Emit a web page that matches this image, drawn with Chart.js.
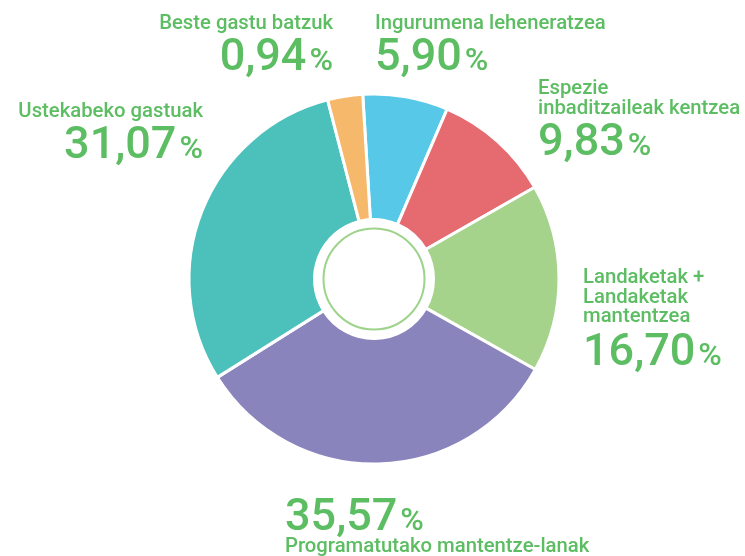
<!DOCTYPE html>
<html><head><meta charset="utf-8">
<script src="https://cdn.jsdelivr.net/npm/chart.js@4.4.1/dist/chart.umd.min.js"></script>
<style>
html,body{margin:0;padding:0;background:#fff;overflow:hidden}
#wrap{position:relative;width:745px;height:556px}
canvas{display:block}
</style></head><body>
<div id="wrap"><canvas id="c" width="745" height="556"></canvas></div>
<script>
// Categories (clockwise from top)
const categories = ['Ingurumena leheneratzea', 'Espezie inbaditzaileak kentzea', 'Landaketak + Landaketak mantentzea', 'Programatutako mantentze-lanak', 'Ustekabeko gastuak', 'Beste gastu batzuk'];
// Category names as printed (line breaks)
const nameLines = [['Ingurumena leheneratzea'], ['Espezie', 'inbaditzaileak kentzea'], ['Landaketak +', 'Landaketak', 'mantentzea'], ['Programatutako mantentze-lanak'], ['Ustekabeko gastuak'], ['Beste gastu batzuk']];
// Percentages as printed
const percentLabels = ['5,90', '9,83', '16,70', '35,57', '31,07', '0,94'];
// Slice shares as drawn in the picture (% of circle)
const sliceShares = [7.44, 10.28, 16.39, 32.94, 29.89, 3.06];
const sliceColors = ['#58c8e9', '#e56b70', '#a6d38c', '#8a84bd', '#4cc0bb', '#f6b96b'];

// Label placement (layout only)
const labelLayout = [
  {align: 'left', x: 375, nameY: [28.5], numY: 70},
  {align: 'left', x: 538, nameY: [94, 114], numY: 155},
  {align: 'left', x: 583, nameY: [283, 303, 322], numY: 365},
  {align: 'left', x: 285, nameY: [552], numY: 530},
  {align: 'right', x: 203, nameY: [117], numY: 158},
  {align: 'right', x: 333, nameY: [28.5], numY: 70}
];
const TEXT_GREEN = '#5cbd62';
const FONT = 'Roboto, "Liberation Sans", sans-serif';

const labelPlugin = {
  id: 'sliceLabels',
  afterDraw(chart) {
    const ctx = chart.ctx;
    const arc = chart.getDatasetMeta(0).data[0];
    ctx.save();
    // inner green ring
    ctx.beginPath();
    ctx.arc(arc.x, arc.y, 50.5, 0, Math.PI * 2);
    ctx.strokeStyle = '#9dd38a';
    ctx.lineWidth = 2;
    ctx.stroke();

    ctx.fillStyle = TEXT_GREEN;
    ctx.textBaseline = 'alphabetic';
    labelLayout.forEach((L, i) => {
      // name lines
      ctx.font = '500 20.3px ' + FONT;
      ctx.textAlign = L.align;
      nameLines[i].forEach((t, k) => ctx.fillText(t, L.x, L.nameY[k]));
      // number + %
      const num = percentLabels[i];
      ctx.font = '500 45px ' + FONT;
      const wNum = ctx.measureText(num).width;
      ctx.font = '500 32px ' + FONT;
      const wPct = ctx.measureText('%').width;
      const gap = 3;
      const start = L.align === 'left' ? L.x : L.x - (wNum + gap + wPct);
      ctx.textAlign = 'left';
      ctx.font = '500 45px ' + FONT;
      ctx.fillText(num, start, L.numY);
      ctx.font = '500 32px ' + FONT;
      ctx.fillText('%', start + wNum + gap, L.numY);
    });
    ctx.restore();
  }
};

function make() {
  new Chart(document.getElementById('c'), {
    type: 'doughnut',
    data: {
      labels: categories,
      datasets: [{
        data: sliceShares,
        backgroundColor: sliceColors,
        borderColor: '#ffffff',
        borderWidth: 3,
        hoverOffset: 0
      }]
    },
    options: {
      responsive: false,
      devicePixelRatio: 1,
      animation: false,
      rotation: -3.5,
      radius: 185,
      cutout: '32.16%',
      layout: {padding: {left: 3, top: 2, right: 0, bottom: 0}},
      plugins: {legend: {display: false}, tooltip: {enabled: false}}
    },
    plugins: [labelPlugin]
  });
}
Promise.all([
  document.fonts.load('500 20px Roboto'),
  document.fonts.load('500 45px Roboto')
]).then(make, make);
</script>
</body></html>
